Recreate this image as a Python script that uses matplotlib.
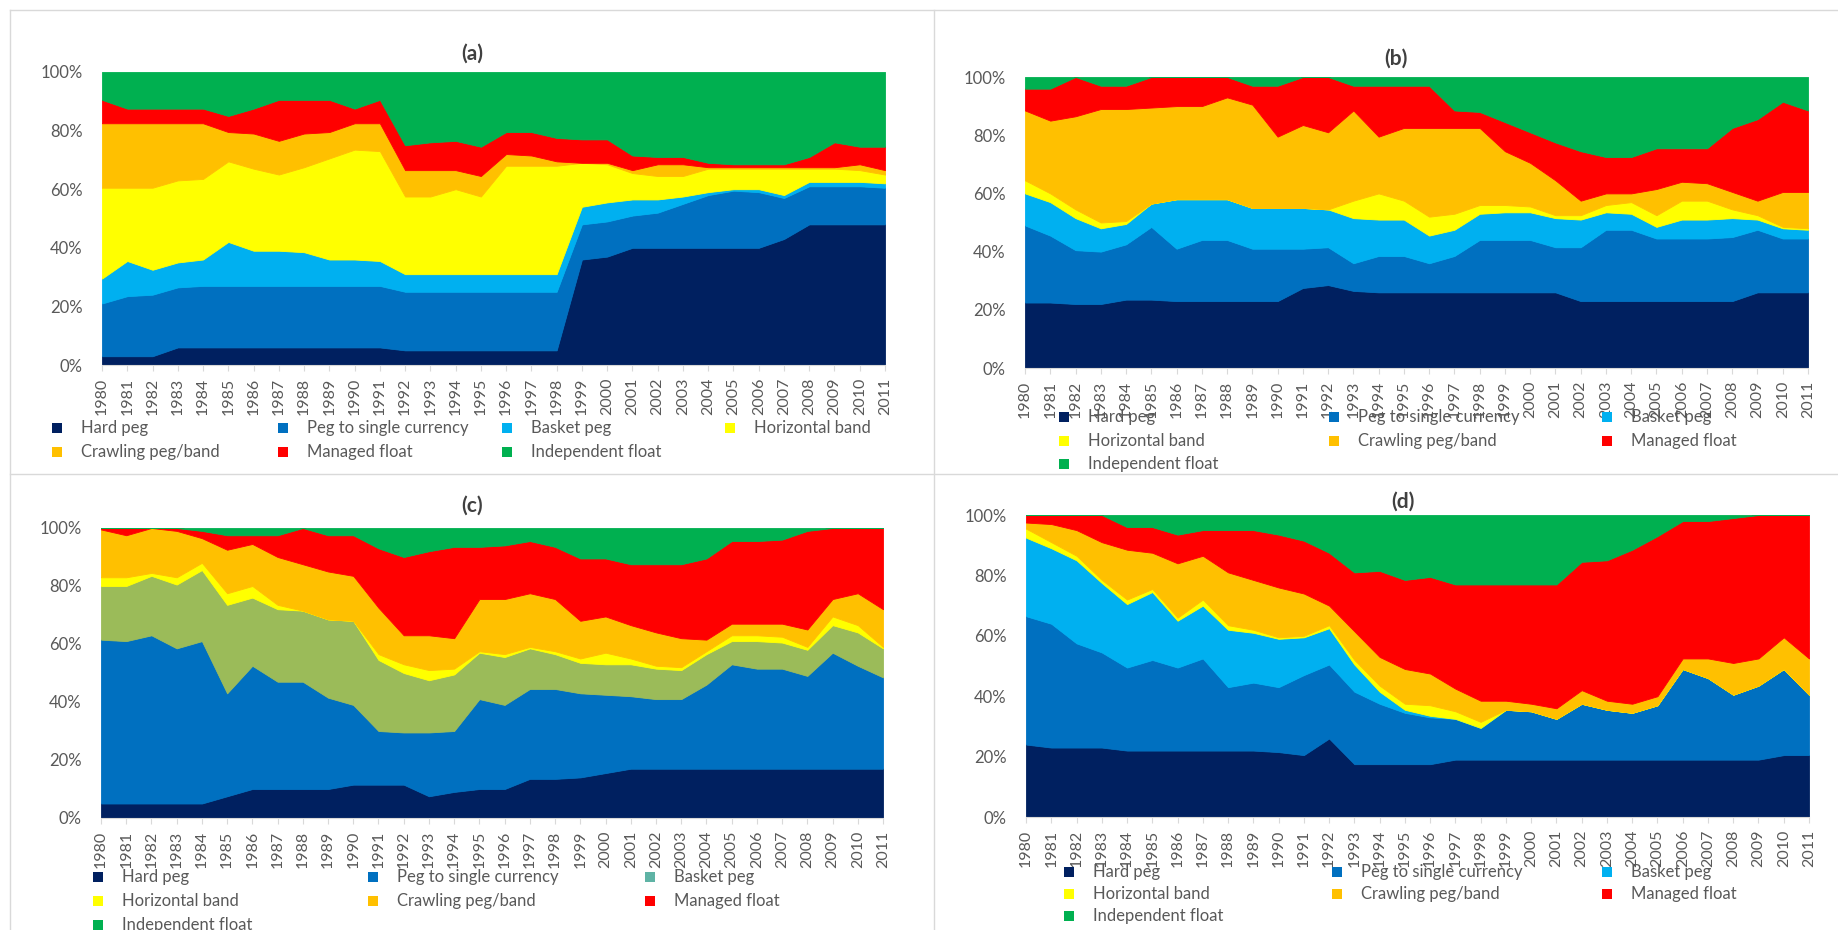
import matplotlib
matplotlib.use("Agg")
import matplotlib.pyplot as plt
from matplotlib.patches import Rectangle
from matplotlib.lines import Line2D

plt.rcParams['font.family'] = ['Lato', 'DejaVu Sans']

W, H = 1838, 930

years = list(range(1980, 2012))
regimes = ["Hard peg", "Peg to single currency", "Basket peg", "Horizontal band",
           "Crawling peg/band", "Managed float", "Independent float"]
colors = ["#002060", "#0070C0", "#00B0F0", "#FFFF00", "#FFC000", "#FF0000", "#00B050"]
basket_olive = "#9BBB59"
basket_marker_c = "#5FB3A5"

# shares in % per year, 1980-2011
hard_a = [3, 3, 3, 6, 6, 6, 6, 6, 6, 6, 6, 6, 5, 5, 5, 5, 5, 5, 5, 36, 37, 40, 40, 40, 40, 40, 40, 43, 48, 48, 48, 48]
peg_a = [18, 20.5, 21, 20.5, 21, 21, 21, 21, 21, 21, 21, 21, 20, 20, 20, 20, 20, 20, 20, 12, 12, 11, 12, 15, 18, 19.5, 19, 14, 13, 13, 13, 12.5]
basket_a = [8.5, 12, 8.5, 8.5, 9, 15, 12, 12, 11.5, 9, 9, 8.5, 6, 6, 6, 6, 6, 6, 6, 6, 6.5, 5.5, 4.5, 2.5, 1, 0.5, 1, 1, 1.5, 1.5, 1.5, 1.5]
horiz_a = [31, 25, 28, 28, 27.5, 27.5, 28, 26, 29, 34.5, 37.5, 37.5, 26.5, 26.5, 29, 26.5, 37, 37, 37, 15, 13, 9, 8, 7, 8, 7, 7, 9, 4.5, 4.5, 4, 3]
crawl_a = [22, 22, 22, 19.5, 19, 10, 12, 11.5, 11.5, 9, 9, 9.5, 9, 9, 6.5, 7, 4, 3.5, 1.5, 0, 0.5, 1, 4, 4, 0.5, 0.5, 0.5, 0.5, 0.5, 0.5, 2, 1.5]
managed_a = [8, 5, 5, 5, 5, 5.5, 8.5, 14, 11.5, 11, 5, 8, 8.5, 9.5, 10, 10, 7.5, 8, 8, 8, 8, 5, 2.5, 2.5, 1.5, 1, 1, 1, 3.5, 8.5, 6, 8]
indep_a = [9.5, 12.5, 12.5, 12.5, 12.5, 15, 12.5, 9.5, 9.5, 9.5, 12.5, 9.5, 25, 24, 23.5, 25.5, 20.5, 20.5, 22.5, 23, 23, 28.5, 29, 29, 31, 31.5, 31.5, 31.5, 29, 24, 25.5, 25.5]

hard_b = [22.5, 22.5, 22, 22, 23.5, 23.5, 23, 23, 23, 23, 23, 27.5, 28.5, 26.5, 26, 26, 26, 26, 26, 26, 26, 26, 23, 23, 23, 23, 23, 23, 23, 26, 26, 26]
peg_b = [26.5, 23, 18.5, 18, 19, 25, 18, 21, 21, 18, 18, 13.5, 13, 9.5, 12.5, 12.5, 10, 12.5, 18, 18, 18, 15.5, 18.5, 24.5, 24.5, 21.5, 21.5, 21.5, 22, 21.5, 18.5, 18.5]
basket_b = [11, 11.5, 11, 8, 7, 8, 17, 14, 14, 14, 14, 14, 13, 15.5, 12.5, 12.5, 9.5, 9, 9, 9.5, 9.5, 10, 9.5, 6, 5.5, 4, 6.5, 6.5, 6.5, 3.5, 3.5, 3]
horiz_b = [4.5, 3, 3, 2, 1, 0, 0, 0, 0, 0, 0, 0, 0, 6, 9, 6.5, 6.5, 5.5, 3, 2.5, 2, 1, 1.5, 2.5, 4, 4, 6.5, 6.5, 3, 1.5, 0.5, 0.5]
crawl_b = [24, 25, 32, 39, 38.5, 33, 32, 32, 35, 35.5, 24.5, 28.5, 26.5, 31, 19.5, 25, 30.5, 29.5, 26.5, 18.5, 15, 12, 5, 4, 3, 9, 6.5, 6, 6, 5, 12, 12.5]
managed_b = [7.5, 11, 13.5, 8, 8, 10.5, 10, 10, 7, 6.5, 17.5, 16.5, 19, 8.5, 17.5, 14.5, 14.5, 6, 5.5, 10, 10.5, 13, 17, 12.5, 12.5, 14, 11.5, 12, 22, 28, 31, 28]
indep_b = [4, 4, 0, 3, 3, 0, 0, 0, 0, 3, 3, 0, 0, 3, 3, 3, 3, 11.5, 12, 15.5, 19, 22.5, 25.5, 27.5, 27.5, 24.5, 24.5, 24.5, 17.5, 14.5, 8.5, 11.5]

hard_c = [5, 5, 5, 5, 5, 7.5, 10, 10, 10, 10, 11.5, 11.5, 11.5, 7.5, 9, 10, 10, 13.5, 13.5, 14, 15.5, 17, 17, 17, 17, 17, 17, 17, 17, 17, 17, 17]
peg_c = [56.5, 56, 58, 53.5, 56, 35.5, 42.5, 37, 37, 31.5, 27.5, 18.5, 18, 22, 21, 31, 29, 31, 31, 29, 27, 25, 24, 24, 29, 36, 34.5, 34.5, 32, 40, 35.5, 31.5]
basket_c = [18.5, 19, 20.5, 22, 24.5, 30.5, 23.5, 25, 24.5, 27, 29, 24.5, 20.5, 18, 19.5, 16, 16.5, 14, 12, 10.5, 10.5, 11, 10.5, 10, 10.5, 8, 9.5, 9, 9, 9.5, 11.5, 10]
horiz_c = [3, 3, 1, 2.5, 2.5, 4, 4, 1.5, 0, 0, 0, 2, 3, 3.5, 2, 0.5, 1, 0.5, 1, 1.5, 4, 2, 1, 1, 1, 2, 2, 2, 1, 3, 2.5, 0.5]
crawl_c = [16.5, 14.5, 15.5, 16, 8.5, 15, 14.5, 16.5, 16, 16.5, 15.5, 16, 10, 12, 10.5, 18, 19, 18.5, 18, 13, 12.5, 11.5, 11.5, 10, 4, 4, 4, 4.5, 6, 6, 11, 13]
managed_c = [0.5, 2.5, 0, 1, 2.5, 5, 3, 7.5, 12.5, 12.5, 14, 20.5, 27, 29, 31.5, 18, 18.5, 18, 18, 21.5, 20, 21, 23.5, 25.5, 28, 28.5, 28.5, 29, 34, 24.5, 22.5, 28]
indep_c = [0, 0, 0, 0, 1, 2.5, 2.5, 2.5, 0, 2.5, 2.5, 7, 10, 8, 6.5, 6.5, 6, 4.5, 6.5, 10.5, 10.5, 12.5, 12.5, 12.5, 10.5, 4.5, 4.5, 4, 1, 0, 0, 0]

hard_d = [24, 23, 23, 23, 22, 22, 22, 22, 22, 22, 21.5, 20.5, 26, 17.5, 17.5, 17.5, 17.5, 19, 19, 19, 19, 19, 19, 19, 19, 19, 19, 19, 19, 19, 20.5, 20.5]
peg_d = [42.5, 41, 34.5, 31.5, 27.5, 30, 27.5, 30.5, 21, 22.5, 21.5, 26.5, 24.5, 24, 20, 17, 15.5, 13.5, 10.5, 16.5, 16, 13.5, 18.5, 16.5, 15.5, 18, 30, 27, 21.5, 24.5, 28.5, 20]
basket_d = [26, 25, 27.5, 23, 21, 22.5, 15.5, 17.5, 19, 16.5, 16, 12.5, 12, 9, 4, 1, 0.5, 0, 0, 0, 0, 0, 0, 0, 0, 0, 0, 0, 0, 0, 0, 0]
horiz_d = [3, 2, 1.5, 1, 1.5, 1, 1, 2, 1.5, 1, 0.5, 0.5, 1, 1.5, 2, 2, 3.5, 2.5, 2, 0, 0, 0, 0, 0, 0, 0, 0, 0, 0, 0, 0, 0]
crawl_d = [2, 6, 8.5, 12.5, 16.5, 12, 18, 14.5, 17.5, 16.5, 16.5, 14, 6.5, 9.5, 9.5, 11.5, 10.5, 7.5, 7, 3, 2.5, 3.5, 4.5, 3, 3, 3, 3.5, 6.5, 10.5, 9, 10.5, 12]
managed_d = [2.5, 3, 5, 9, 7.5, 8.5, 9.5, 8.5, 14, 16.5, 17.5, 17.5, 17.5, 19.5, 28.5, 29.5, 32, 34.5, 38.5, 38.5, 39.5, 41, 42.5, 46.5, 51, 53, 45.5, 45.5, 48, 47.5, 40.5, 47.5]
indep_d = [0, 0, 0, 0, 4, 4, 6.5, 5, 5, 5, 6.5, 8.5, 12.5, 19, 18.5, 21.5, 20.5, 23, 23, 23, 23, 23, 15.5, 15, 11.5, 7, 2, 2, 1, 0, 0, 0]


def fx(x):
    return x / W


def fy(y):
    return 1 - y / H


def draw_panel(fig, tag, series, box, title_xy, legend_cols, legend_rows, ncol, area_colors, marker_colors):
    left, top, right, bottom = box
    ax = fig.add_axes([fx(left), fy(bottom), (right - left) / W, (bottom - top) / H])
    polys = ax.stackplot(years, *series, colors=area_colors)
    for p, c in zip(polys, area_colors):
        p.set_edgecolor(c)
        p.set_linewidth(0.6)
    ax.set_xlim(1980, 2011)
    ax.set_ylim(0, 100)
    ax.set_xticks(years)
    ax.set_xticklabels([str(y) for y in years], rotation=90)
    ax.set_yticks(range(0, 101, 20))
    ax.set_yticklabels([f"{v}%" for v in range(0, 101, 20)])
    for s in ["top", "right", "left"]:
        ax.spines[s].set_visible(False)
    ax.spines["bottom"].set_color("#D9D9D9")
    ax.tick_params(axis="y", length=0, pad=14, labelsize=12, labelcolor="#595959")
    ax.tick_params(axis="x", length=4, color="#D9D9D9", pad=5, labelsize=11.5, labelcolor="#595959")

    fig.text(fx(title_xy[0]), fy(title_xy[1]), tag, ha="center", va="center",
             fontsize=15, fontweight="bold", color="#404040")

    # legend, row-major like the Excel original
    for i, name in enumerate(regimes):
        x = legend_cols[i % ncol]
        y = legend_rows[i // ncol]
        fig.add_artist(Rectangle((fx(x - 5), fy(y + 5)), 10 / W, 10 / H,
                                 transform=fig.transFigure, color=marker_colors[i], lw=0))
        fig.text(fx(x + 24), fy(y), name, ha="left", va="center", fontsize=12, color="#595959")
    return ax


fig = plt.figure(figsize=(W / 100, H / 100), dpi=100)
fig.patch.set_facecolor("white")

# frame lines between the four panels
for (x0, y0, x1, y1) in [(10, 10, W, 10), (10, 10, 10, H), (934, 10, 934, H), (10, 474, W, 474)]:
    fig.add_artist(Line2D([fx(x0), fx(x1)], [fy(y0), fy(y1)], transform=fig.transFigure,
                          color="#D9D9D9", lw=1))

colors_c = colors[:2] + [basket_olive] + colors[3:]
markers_c = colors[:2] + [basket_marker_c] + colors[3:]

draw_panel(fig, "(a)", [hard_a, peg_a, basket_a, horiz_a, crawl_a, managed_a, indep_a],
           (102, 72, 885, 365), (472, 54), [57, 283, 507, 730], [428, 452], 4, colors, colors)
draw_panel(fig, "(b)", [hard_b, peg_b, basket_b, horiz_b, crawl_b, managed_b, indep_b],
           (1025, 77, 1808, 368), (1396, 59), [1064, 1334, 1607], [417, 441, 464], 3, colors, colors)
draw_panel(fig, "(c)", [hard_c, peg_c, basket_c, horiz_c, crawl_c, managed_c, indep_c],
           (101, 528, 883, 818), (472, 506), [98, 373, 650], [877, 901, 925], 3, colors_c, markers_c)
draw_panel(fig, "(d)", [hard_d, peg_d, basket_d, horiz_d, crawl_d, managed_d, indep_d],
           (1026, 515, 1809, 817), (1403, 502), [1069, 1337, 1607], [872, 894, 916], 3, colors, colors)

fig.savefig("out.png", dpi=100)
